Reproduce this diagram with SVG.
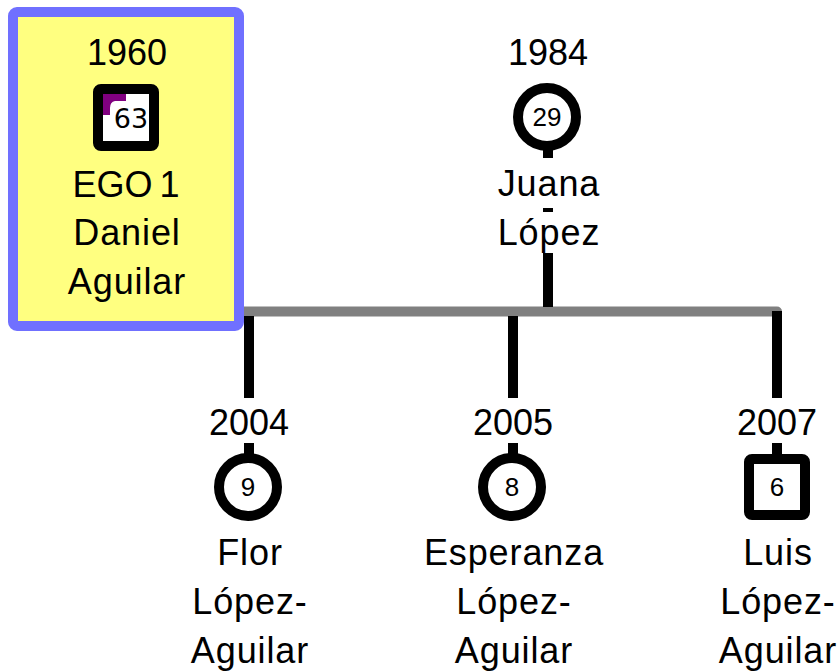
<svg xmlns="http://www.w3.org/2000/svg" width="839" height="671" viewBox="0 0 839 671">
<style>
.t{font-family:"Liberation Sans",Arial,sans-serif;font-size:36px;text-anchor:middle;fill:#000}
.w{letter-spacing:0.9px}
.n{font-family:"Liberation Sans",Arial,sans-serif;font-size:26px;text-anchor:middle;fill:#000}
.bg{fill:#fff}
.sym{fill:#fff;stroke:#000;stroke-width:10}
.ln{stroke:#000;stroke-width:10;fill:none}
</style>
<rect width="839" height="671" fill="#fff"/>
<g id="connectors">
<line x1="230" y1="311.5" x2="777" y2="311.5" stroke="#808080" stroke-width="10" stroke-linecap="round"/>
<line class="ln" x1="548" y1="150" x2="548" y2="307"/>
<line class="ln" x1="249" y1="316" x2="249" y2="455"/>
<line class="ln" x1="513" y1="316" x2="513" y2="455"/>
<line class="ln" x1="777" y1="311" x2="777" y2="458"/>
</g>
<g id="ego">
<rect x="13" y="12" width="226" height="314" rx="4" fill="#ffff80" stroke="#7070ff" stroke-width="10"/>
<text class="t" x="127" y="65">1960</text>
<rect class="sym" x="98" y="89" width="56" height="57" rx="3"/>
<path d="M103,94 H126 V101 H115 Q110,102 110,108 V115 H103 Z" fill="#800080"/>
<text x="131" y="128" font-family="'DejaVu Sans',sans-serif" font-size="27" text-anchor="middle">63</text>
<text class="t" x="126" y="197" word-spacing="-3">EGO 1</text>
<text class="t w" x="127" y="245">Daniel</text>
<text class="t w" x="127" y="294">Aguilar</text>
</g>
<g id="juana">
<text class="t" x="548" y="65">1984</text>
<circle class="sym" cx="547" cy="117" r="29"/>
<text class="n" x="547" y="126">29</text>
<rect class="bg" x="495" y="158" width="108" height="50"/>
<rect class="bg" x="495" y="212" width="108" height="41"/>
<text class="t w" x="549" y="196">Juana</text>
<text class="t w" x="549" y="245">López</text>
</g>
<g id="flor">
<rect class="bg" x="205" y="398" width="88" height="45"/>
<text class="t" x="249" y="435">2004</text>
<circle class="sym" cx="248" cy="487" r="29"/>
<text class="n" x="248" y="496">9</text>
<text class="t w" x="250" y="565">Flor</text>
<text class="t w" x="250" y="614">López-</text>
<text class="t w" x="250" y="663">Aguilar</text>
</g>
<g id="esperanza">
<rect class="bg" x="469" y="398" width="88" height="45"/>
<text class="t" x="513" y="435">2005</text>
<circle class="sym" cx="512" cy="487" r="29"/>
<text class="n" x="512" y="496">8</text>
<text class="t w" x="514" y="565">Esperanza</text>
<text class="t w" x="514" y="614">López-</text>
<text class="t w" x="514" y="663">Aguilar</text>
</g>
<g id="luis">
<rect class="bg" x="733" y="398" width="88" height="45"/>
<text class="t" x="777" y="435">2007</text>
<rect class="sym" x="749" y="459" width="56" height="56" rx="3"/>
<text class="n" x="777" y="496">6</text>
<text class="t w" x="778" y="565">Luis</text>
<text class="t w" x="778" y="614">López-</text>
<text class="t w" x="778" y="663">Aguilar</text>
</g>
</svg>
